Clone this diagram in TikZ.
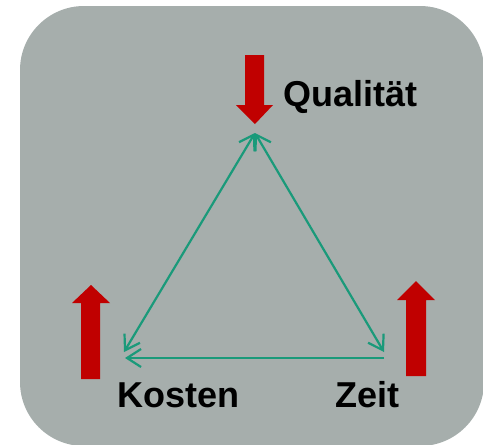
\documentclass[tikz,border=0pt]{standalone}
\usepackage{fontspec}
\setmainfont{Liberation Sans}
\usetikzlibrary{arrows.meta}
\definecolor{bggrey}{RGB}{166,174,172}
\definecolor{darkred}{RGB}{192,0,0}
\definecolor{teal}{RGB}{26,154,122}
\tikzset{
  barb/.tip={Straight Barb[length=14pt,width=18pt,line width=2.2pt]},
  lbl/.style={inner sep=0pt, anchor=base west, font=\fontsize{36}{40}\selectfont\bfseries},
  redarrow/.style={fill=darkred, draw=none},
  link/.style={draw=teal, line width=2.2pt, barb-barb},
  linkone/.style={draw=teal, line width=2.2pt, -barb}
}
\begin{document}
\begin{tikzpicture}[x=1pt,y=-1pt]
\useasboundingbox (0,0) rectangle (483,445);
\clip (0,0) rectangle (483,445);
\fill[bggrey, rounded corners=64pt] (20,6) rectangle (484,446);
% red arrows
\fill[redarrow] (245,55) -- (264,55) -- (264,105) -- (273,105) -- (255,124) -- (236,105) -- (245,105) -- cycle;
\fill[redarrow] (81,379) -- (100,379) -- (100,303) -- (110,303) -- (91,285) -- (72,303) -- (81,303) -- cycle;
\fill[redarrow] (406,376) -- (426,376) -- (426,300) -- (435,300) -- (416,281) -- (397,300) -- (406,300) -- cycle;
% triangle
\coordinate (top) at (255,133);
\coordinate (bl) at (124,352);
\coordinate (br) at (384,352);
\coordinate (zr) at (384,358);
\coordinate (kl) at (125,358);
\draw[link] (top) -- (bl);
\draw[link] (top) -- (br);
\draw[linkone] (zr) -- (kl);
% labels
\node[lbl] (q) at (283,106) {Qualität};
\node[lbl] (k) at (117,407) {Kosten};
\node[lbl] (z) at (335,407) {Zeit};
\end{tikzpicture}
\end{document}
